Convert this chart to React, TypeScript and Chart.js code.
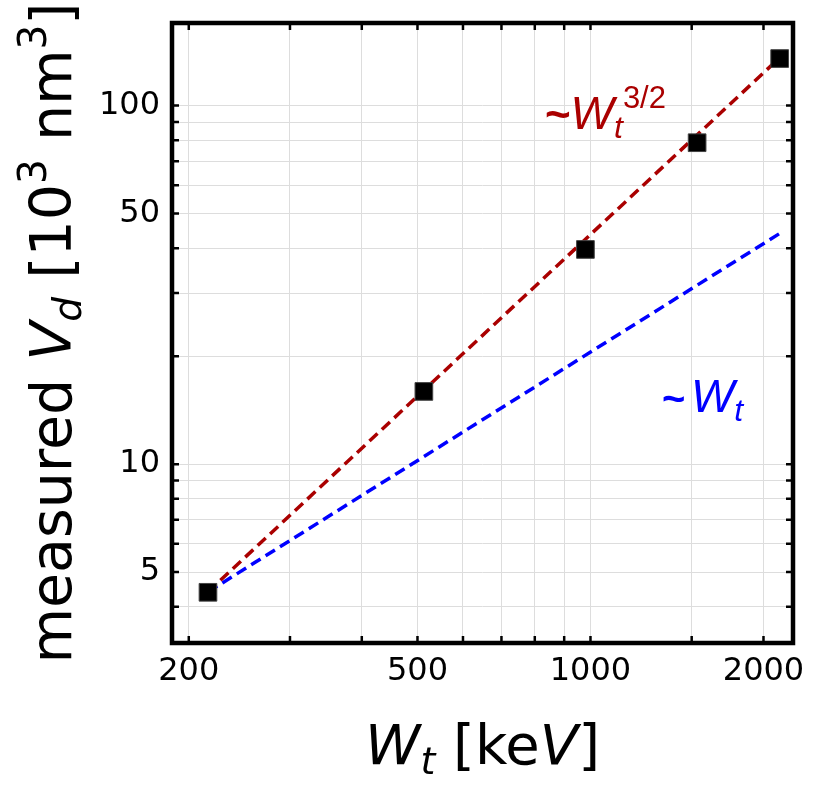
import { useEffect, useRef } from "react"
import { Chart, registerables } from "chart.js"

Chart.register(...registerables)

// measured points (W_t in keV, V_d in 10^3 nm^3)
const energies = [216, 513, 980, 1533, 2134]
const volumes = [4.39, 15.95, 39.7, 78.8, 135.3]

// guide lines, endpoints
const guideX = [216, 2134]
const guidePow = [4.4, 136]
const guideLin = [4.4, 44]

// axes
const xRange = [187, 2251]
const yRange = [3.17, 170]
const xTicks = [200, 300, 400, 500, 600, 700, 800, 900, 1000, 1500, 2000]
const xLabels = [200, 500, 1000, 2000]
const yTicks = [4, 5, 6, 7, 8, 9, 10, 20, 30, 40, 50, 60, 70, 80, 90, 100]
const yLabels = [5, 10, 50, 100]

// where the two guide labels sit, in data units
const powLabelAt = [833, 85.9]
const linLabelAt = [1332, 14.0]

const RED = "#aa0000"
const BLUE = "#0000ff"

type Run = { text: string; size: number; italic?: boolean; bold?: boolean; shift?: number }

function drawRuns(ctx: CanvasRenderingContext2D, runs: Run[], x: number, y: number, center: boolean, family: string) {
  const font = (r: Run) => `${r.italic ? "italic " : ""}${r.bold ? "bold " : ""}${r.size}px "${family}"`
  const widths = runs.map((r) => {
    ctx.font = font(r)
    return ctx.measureText(r.text).width
  })
  const total = widths.reduce((a, b) => a + b, 0)
  let cx = center ? x - total / 2 : x
  ctx.textAlign = "left"
  ctx.textBaseline = "alphabetic"
  runs.forEach((r, i) => {
    ctx.font = font(r)
    ctx.fillText(r.text, cx, y + (r.shift || 0))
    cx += widths[i]
  })
}

const framePlugin = {
  id: "frame",
  afterDraw(chart: any) {
    const { ctx, chartArea: a, scales } = chart
    ctx.save()

    // inward tick marks on all four sides
    ctx.strokeStyle = "#000"
    ctx.lineWidth = 2.5
    ctx.beginPath()
    for (const v of xTicks) {
      const px = scales.x.getPixelForValue(v)
      ctx.moveTo(px, a.bottom)
      ctx.lineTo(px, a.bottom - 7)
      ctx.moveTo(px, a.top)
      ctx.lineTo(px, a.top + 7)
    }
    for (const v of yTicks) {
      const py = scales.y.getPixelForValue(v)
      ctx.moveTo(a.left, py)
      ctx.lineTo(a.left + 7, py)
      ctx.moveTo(a.right, py)
      ctx.lineTo(a.right - 7, py)
    }
    ctx.stroke()

    ctx.lineWidth = 4.5
    ctx.strokeRect(a.left, a.top, a.right - a.left, a.bottom - a.top)

    // guide labels
    ctx.fillStyle = RED
    drawRuns(
      ctx,
      [
        { text: "~", size: 44, bold: true },
        { text: "W", size: 46, italic: true },
        { text: "t", size: 32, italic: true, shift: 9 },
        { text: "3/2", size: 31, shift: -21 },
      ],
      scales.x.getPixelForValue(powLabelAt[0]),
      scales.y.getPixelForValue(powLabelAt[1]),
      false,
      "Liberation Sans"
    )
    ctx.fillStyle = BLUE
    drawRuns(
      ctx,
      [
        { text: "~", size: 40, bold: true },
        { text: " ", size: 20 },
        { text: "W", size: 46, italic: true },
        { text: "t", size: 32, italic: true, shift: 9 },
      ],
      scales.x.getPixelForValue(linLabelAt[0]),
      scales.y.getPixelForValue(linLabelAt[1]),
      false,
      "Liberation Sans"
    )

    // axis titles
    ctx.fillStyle = "#000"
    drawRuns(
      ctx,
      [
        { text: "W", size: 56, italic: true },
        { text: "t", size: 38, italic: true, shift: 10 },
        { text: " [ke", size: 56 },
        { text: "V", size: 56, italic: true },
        { text: "]", size: 56 },
      ],
      (a.left + a.right) / 2,
      764,
      true,
      "DejaVu Sans"
    )
    ctx.translate(71, (a.top + a.bottom) / 2)
    ctx.rotate(-Math.PI / 2)
    drawRuns(
      ctx,
      [
        { text: "measured ", size: 57 },
        { text: "V", size: 57, italic: true },
        { text: "d", size: 39, italic: true, shift: 10 },
        { text: " [10", size: 57 },
        { text: "3", size: 39, shift: -25 },
        { text: " nm", size: 57 },
        { text: "3", size: 39, shift: -25 },
        { text: "]", size: 57 },
      ],
      0,
      0,
      true,
      "DejaVu Sans"
    )
    ctx.restore()
  },
}

export default function App() {
  const canvasRef = useRef<HTMLCanvasElement>(null)

  useEffect(() => {
    document.body.style.margin = "0"
    if (!canvasRef.current) return

    const tickFont = { family: "DejaVu Sans", size: 32 }
    const grid = { color: "#dddddd", lineWidth: 1, drawTicks: false }

    const chart = new Chart(canvasRef.current, {
      type: "scatter",
      data: {
        datasets: [
          {
            label: "measured",
            data: energies.map((x, i) => ({ x, y: volumes[i] })),
            pointStyle: "rect",
            pointRadius: 12.5,
            backgroundColor: "#000",
            borderColor: "#444",
            borderWidth: 1,
          },
          {
            label: "W^3/2",
            data: guideX.map((x, i) => ({ x, y: guidePow[i] })),
            showLine: true,
            pointRadius: 0,
            borderColor: RED,
            borderWidth: 3.5,
            borderDash: [11, 6],
          },
          {
            label: "W",
            data: guideX.map((x, i) => ({ x, y: guideLin[i] })),
            showLine: true,
            pointRadius: 0,
            borderColor: BLUE,
            borderWidth: 3.5,
            borderDash: [11, 6],
          },
        ],
      },
      options: {
        responsive: false,
        animation: false,
        events: [],
        layout: { padding: { top: 23, right: 37, left: 0, bottom: 0 } },
        plugins: { legend: { display: false }, tooltip: { enabled: false } },
        scales: {
          x: {
            type: "logarithmic",
            min: xRange[0],
            max: xRange[1],
            grid,
            border: { display: false },
            afterBuildTicks: (scale: any) => {
              scale.ticks = xTicks.map((value) => ({ value }))
            },
            afterFit: (scale: any) => {
              scale.height = 152
              scale.paddingLeft = 0
              scale.paddingRight = 0
            },
            ticks: {
              font: tickFont,
              color: "#000",
              padding: 9,
              autoSkip: false,
              maxRotation: 0,
              minRotation: 0,
              callback: (value: any) => (xLabels.includes(Number(value)) ? String(value) : ""),
            },
          },
          y: {
            type: "logarithmic",
            min: yRange[0],
            max: yRange[1],
            grid,
            border: { display: false },
            afterBuildTicks: (scale: any) => {
              scale.ticks = yTicks.map((value) => ({ value }))
            },
            afterFit: (scale: any) => {
              scale.width = 172
              scale.paddingTop = 0
              scale.paddingBottom = 0
            },
            ticks: {
              font: tickFont,
              color: "#000",
              padding: 12,
              autoSkip: false,
              callback: (value: any) => (yLabels.includes(Number(value)) ? String(value) : ""),
            },
          },
        },
      },
      plugins: [framePlugin],
    })

    return () => chart.destroy()
  }, [])

  return (
    <div style={{ width: 830, height: 795 }}>
      <canvas ref={canvasRef} width={830} height={795} />
    </div>
  )
}
